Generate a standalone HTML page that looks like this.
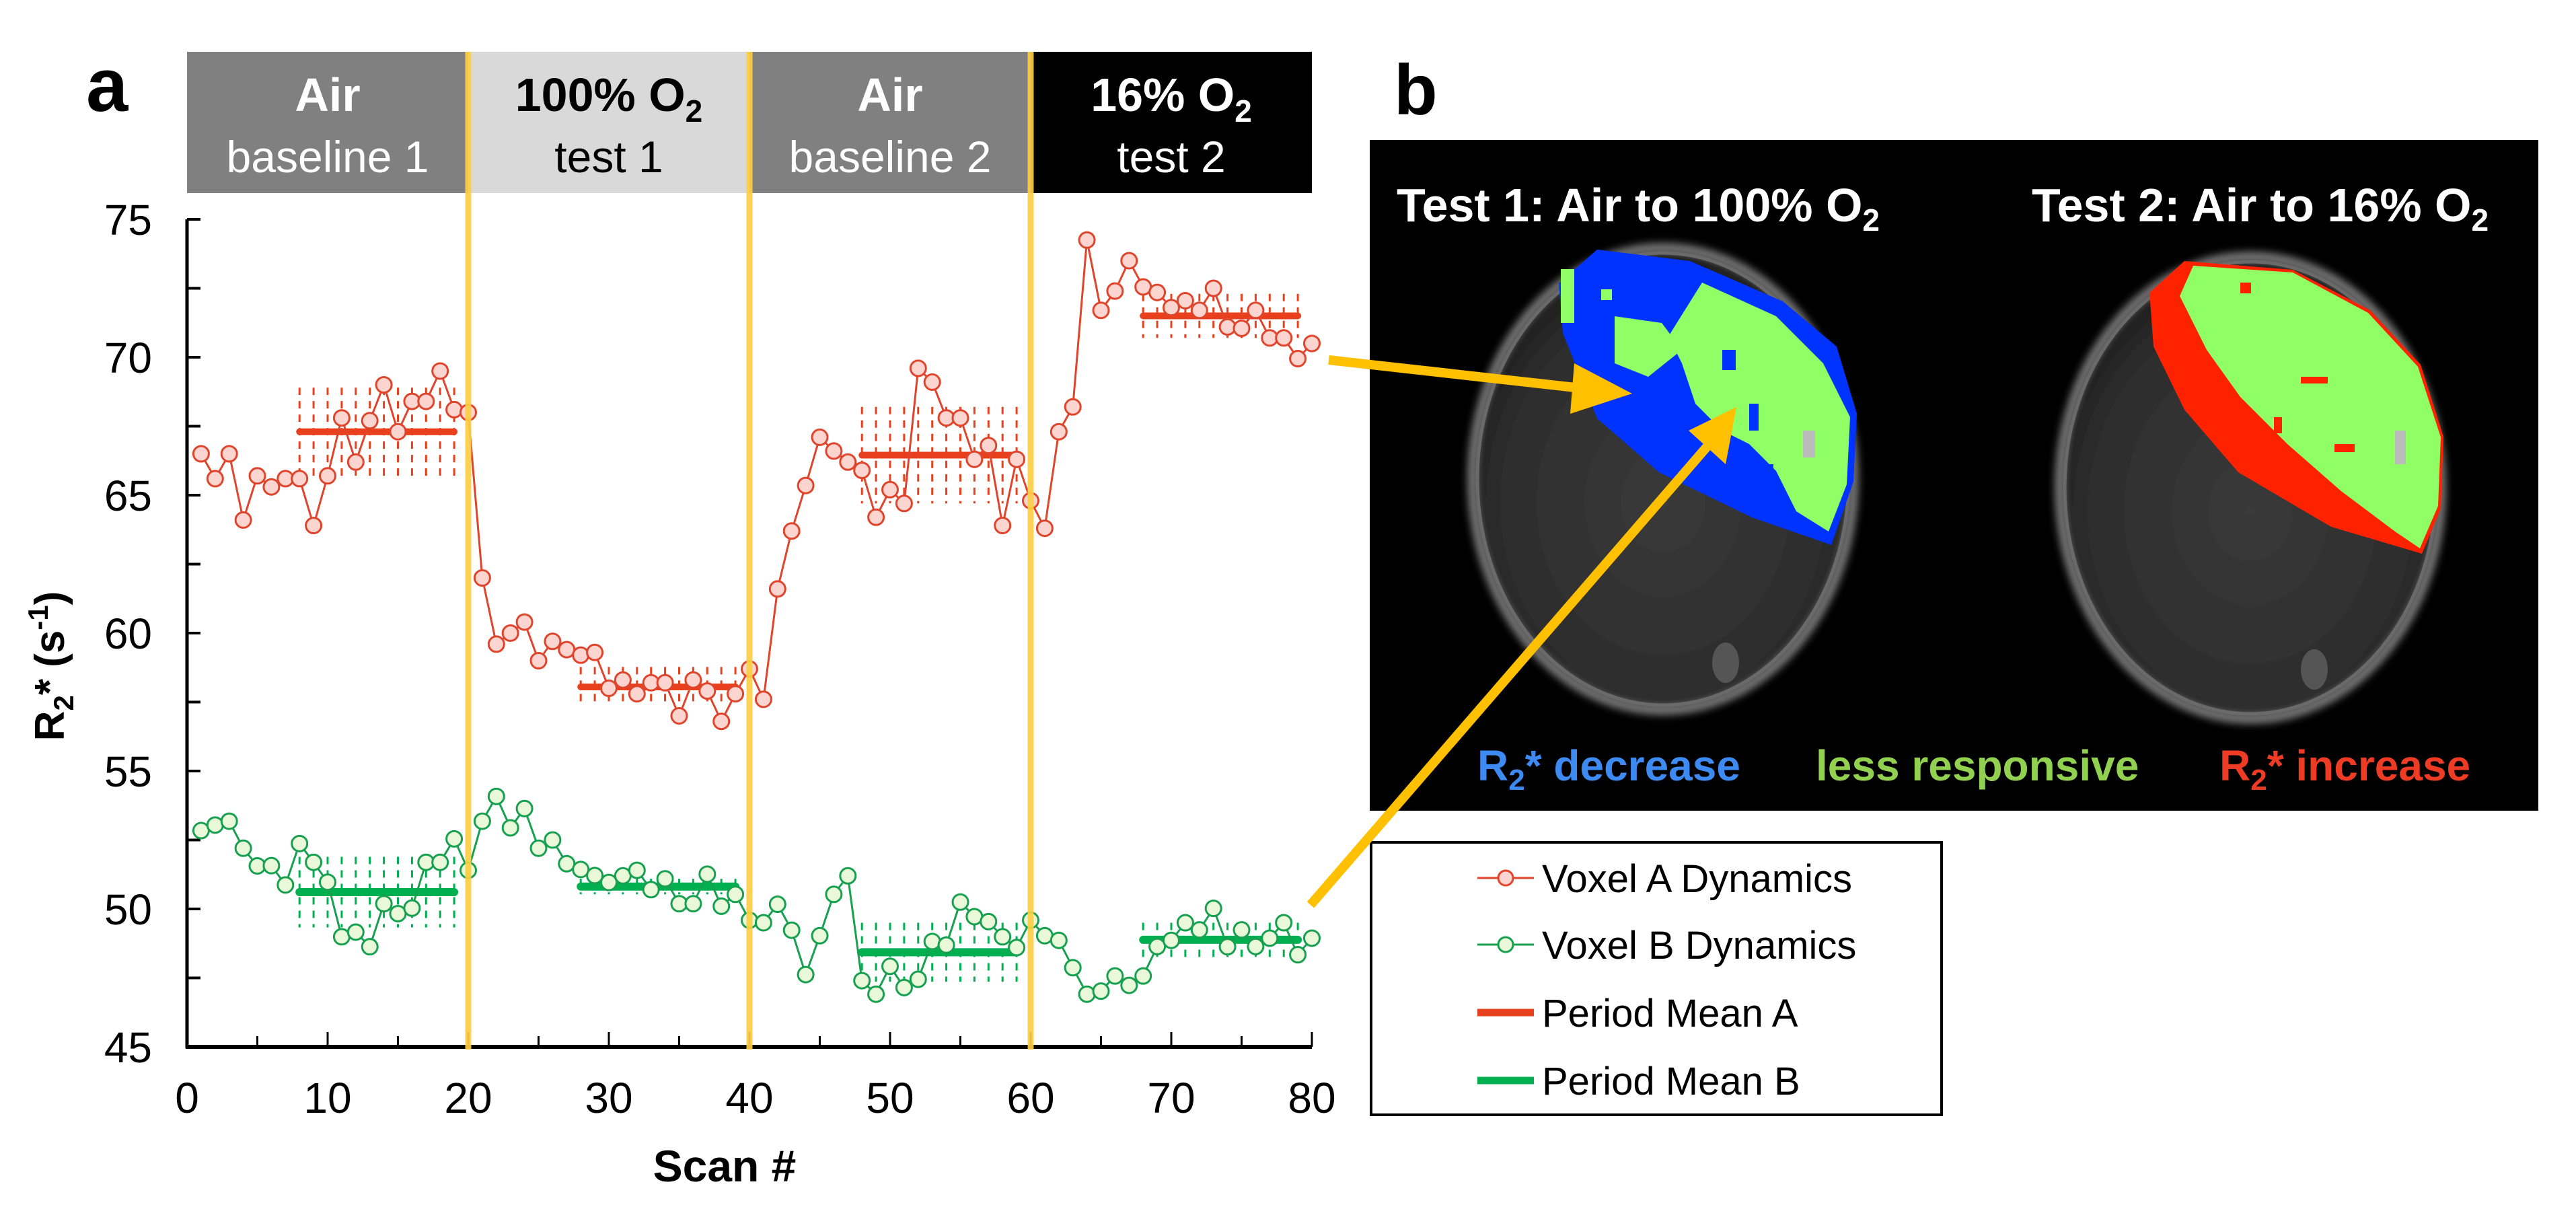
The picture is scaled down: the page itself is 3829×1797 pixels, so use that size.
<!DOCTYPE html>
<html><head><meta charset="utf-8"><style>
html,body{margin:0;padding:0;background:#fff}
svg{display:block}
text{font-family:"Liberation Sans",Arial,sans-serif}
</style></head><body>
<svg id="fig" width="3829" height="1797" viewBox="0 0 3829 1797" xmlns="http://www.w3.org/2000/svg">
<defs>
<radialGradient id="mri" cx="50%" cy="55%" r="55%">
<stop offset="0%" stop-color="#3a3a3a"/><stop offset="80%" stop-color="#2c2c2c"/><stop offset="100%" stop-color="#1a1a1a"/>
</radialGradient>
<filter id="blur"><feGaussianBlur stdDeviation="6"/></filter>
</defs>
<g id="panelA">
<text x="128" y="165" font-size="112" font-weight="bold">a</text>
<g id="header"></g>
<g id="plot"></g>
<text transform="translate(95,990) rotate(-90)" text-anchor="middle" font-size="62" font-weight="bold">R<tspan font-size="42" dy="14">2</tspan><tspan dy="-14">* (s</tspan><tspan font-size="42" dy="-24">-1</tspan><tspan dy="24">)</tspan></text>
<text x="1077" y="1756" text-anchor="middle" font-size="66" font-weight="bold">Scan #</text>
</g>
<g id="panelB">
<text x="2072" y="170" font-size="106" font-weight="bold">b</text>
<rect x="2036" y="208" width="1737" height="997" fill="#000"/>
<g>
<ellipse cx="2472" cy="712" rx="285" ry="345" fill="url(#mri)" stroke="#8a8a8a" stroke-width="10" filter="url(#blur)"/>
<ellipse cx="2472" cy="712" rx="276" ry="336" fill="none" stroke="#6a6a6a" stroke-width="5"/>
<polygon points="2374,371 2512,388 2650,448 2730,515 2760,615 2755,716 2722,810 2604,769 2466,702 2374,622 2323,495 2317,421" fill="#0033ff"/>
<polygon points="2530,420 2640,470 2710,540 2750,620 2745,720 2718,790 2670,760 2640,700 2600,660 2560,640 2520,600 2500,540 2480,500" fill="#90ff66"/>
<polygon points="2400,470 2470,480 2500,520 2450,560 2400,540" fill="#90ff66"/>
<rect x="2320" y="400" width="20" height="80" fill="#90ff66"/>
<rect x="2380" y="430" width="16" height="16" fill="#90ff66"/><rect x="2420" y="500" width="30" height="12" fill="#90ff66"/>
<rect x="2560" y="520" width="20" height="30" fill="#0033ff"/><rect x="2600" y="600" width="14" height="40" fill="#0033ff"/>
<rect x="2680" y="640" width="18" height="40" fill="#bbbbbb"/><rect x="2620" y="690" width="16" height="16" fill="#0033ff"/>
<ellipse cx="2565" cy="985" rx="20" ry="30" fill="#555"/>
</g>
<g>
<ellipse cx="3345" cy="725" rx="285" ry="345" fill="url(#mri)" stroke="#8a8a8a" stroke-width="10" filter="url(#blur)"/>
<ellipse cx="3345" cy="725" rx="276" ry="336" fill="none" stroke="#6a6a6a" stroke-width="5"/>
<polygon points="3247,388 3408,401 3523,461 3598,542 3632,649 3628,756 3600,823 3465,783 3327,702 3247,609 3201,515 3195,435" fill="#ff2200"/>
<polygon points="3260,395 3408,405 3520,465 3594,545 3628,650 3624,752 3597,815 3560,790 3480,730 3400,660 3330,590 3280,520 3240,440" fill="#90ff66"/>
<rect x="3330" y="420" width="16" height="16" fill="#ff2200"/><rect x="3420" y="560" width="40" height="10" fill="#ff2200"/>
<rect x="3380" y="620" width="12" height="24" fill="#ff2200"/><rect x="3470" y="660" width="30" height="12" fill="#ff2200"/>
<rect x="3560" y="640" width="16" height="50" fill="#bbbbbb"/>
<ellipse cx="3440" cy="995" rx="20" ry="30" fill="#555"/>
</g>
<text x="2076" y="329" font-size="70" font-weight="bold" fill="#fff">Test 1: Air to 100% O<tspan font-size="46" dy="14">2</tspan></text>
<text x="3020" y="329" font-size="70" font-weight="bold" fill="#fff">Test 2: Air to 16% O<tspan font-size="46" dy="14">2</tspan></text>
<text x="2196" y="1160" font-size="64" font-weight="bold" fill="#3d8bf2">R<tspan font-size="44" dy="14">2</tspan><tspan dy="-14">* decrease</tspan></text>
<text x="2699" y="1160" font-size="64" font-weight="bold" fill="#92d050">less responsive</text>
<text x="3299" y="1160" font-size="64" font-weight="bold" fill="#ee3b24">R<tspan font-size="44" dy="14">2</tspan><tspan dy="-14">* increase</tspan></text>
</g>
<g id="legend">
<rect x="2038" y="1252" width="848" height="405" fill="#fff" stroke="#000" stroke-width="4"/>
<g>
<line x1="2196" y1="1305" x2="2280" y2="1305" stroke="#e0452c" stroke-width="3"/><circle cx="2238" cy="1305" r="11" fill="#fdd5d0" stroke="#e0452c" stroke-width="3"/>
<text x="2292" y="1326" font-size="58">Voxel A Dynamics</text></g>
<g>
<line x1="2196" y1="1404" x2="2280" y2="1404" stroke="#16a050" stroke-width="3"/><circle cx="2238" cy="1404" r="11" fill="#e8f8d8" stroke="#16a050" stroke-width="3"/>
<text x="2292" y="1425" font-size="58">Voxel B Dynamics</text></g>
<g>
<line x1="2196" y1="1505" x2="2280" y2="1505" stroke="#e8401c" stroke-width="11"/>
<text x="2292" y="1526" font-size="58">Period Mean A</text></g>
<g>
<line x1="2196" y1="1606" x2="2280" y2="1606" stroke="#00b050" stroke-width="11"/>
<text x="2292" y="1627" font-size="58">Period Mean B</text></g>
</g>
<g id="arrows">
<line x1="1975" y1="535" x2="2350" y2="577" stroke="#ffc000" stroke-width="14"/>
<polygon points="2426,585 2340,540 2334,615" fill="#ffc000"/>
<line x1="1948" y1="1345" x2="2545" y2="655" stroke="#ffc000" stroke-width="14"/>
<polygon points="2581,605 2510,640 2565,690" fill="#ffc000"/>
</g>
</svg>
<script>
const scans = [];
for (let i = 1; i <= 80; i++) scans.push(i);
const voxelA = [66.5,65.6,66.5,64.1,65.7,65.3,65.6,65.6,63.9,65.7,67.8,66.2,67.7,69.0,67.3,68.4,68.4,69.5,68.1,68.0,
62.0,59.6,60.0,60.4,59.0,59.7,59.4,59.2,59.3,58.0,58.3,57.8,58.2,58.2,57.0,58.3,57.9,56.8,57.8,58.7,
57.6,61.6,63.7,65.35,67.1,66.6,66.2,65.9,64.2,65.2,64.7,69.6,69.1,67.8,67.8,66.3,66.8,63.9,66.3,64.8,
63.8,67.3,68.2,74.25,71.7,72.4,73.5,72.55,72.35,71.8,72.05,71.7,72.5,71.1,71.05,71.7,70.7,70.7,69.95,70.5];
const voxelB = [52.84,53.04,53.18,52.2,51.56,51.57,50.87,52.37,51.69,50.97,48.99,49.16,48.63,50.19,49.83,50.03,51.69,51.69,52.54,51.4,
53.18,54.08,52.94,53.64,52.2,52.5,51.64,51.43,51.21,50.96,51.2,51.4,50.7,51.09,50.19,50.19,51.26,50.1,50.53,49.59,
49.5,50.17,49.23,47.62,49.03,50.53,51.2,47.4,46.91,47.92,47.15,47.45,48.82,48.69,50.25,49.72,49.54,48.99,48.6,49.59,
49.03,48.86,47.87,46.91,47.02,47.57,47.23,47.57,48.64,48.86,49.5,49.24,50.02,48.63,49.24,48.64,48.94,49.5,48.34,48.94];
const periodStart = [8,28,48,68];
const periodEnd = [19,39,59,79];
const meanA = [67.3,58.05,66.45,71.5];
const errA = [1.6,0.72,1.75,0.8];
const meanB = [50.61,50.81,48.43,48.88];
const errB = [1.28,0.28,1.07,0.62];
const yTicks = [45,50,55,60,65,70,75];
const xTicks = [0,10,20,30,40,50,60,70,80];
const boundaries = [20,40,60];
const headerStart = [0,20,40,60];
const headerEnd = [20,40,60,80];
const headerTitle = ["Air","100% O","Air","16% O"];
const headerSub = ["baseline 1","test 1","baseline 2","test 2"];

const NS = "http://www.w3.org/2000/svg";
const X = s => 278 + s * 20.9;
const Y = v => 326 + (75 - v) * 41.0;
function mk(tag, attrs, parent) {
  const e = document.createElementNS(NS, tag);
  for (const k in attrs) e.setAttribute(k, attrs[k]);
  parent.appendChild(e);
  return e;
}
const plot = document.getElementById('plot');
const header = document.getElementById('header');

const hFill = ["#808080","#d9d9d9","#808080","#000000"];
const hText = ["#ffffff","#000000","#ffffff","#ffffff"];
for (let i = 0; i < 4; i++) {
  const r = mk('rect', {x: X(headerStart[i]), y: 77, width: X(headerEnd[i]) - X(headerStart[i]), height: 210, fill: hFill[i]}, header);
  
  
  const cx = (X(headerStart[i]) + X(headerEnd[i])) / 2;
  const t = mk('text', {x: cx, y: 165, 'text-anchor': 'middle', 'font-size': 70, 'font-weight': 'bold', fill: hText[i]}, header);
  
  
  t.textContent = headerTitle[i];
  if (i % 2 === 1) {
    const sub = mk('tspan', {'font-size': 46, dy: 16}, t);
    sub.textContent = '2';
  }
  const s = mk('text', {x: cx, y: 256, 'text-anchor': 'middle', 'font-size': 66, fill: hText[i]}, header);
  
  
  s.textContent = headerSub[i];
}

const yAxis = mk('line', {x1: 278, y1: Y(75), x2: 278, y2: Y(45) + 2, stroke: '#000', 'stroke-width': 5}, plot);


const xAxis = mk('line', {x1: 276, y1: Y(45), x2: X(80), y2: Y(45), stroke: '#000', 'stroke-width': 6}, plot);


for (let v = 45; v <= 75; v += 2.5) {
  const tk = mk('line', {x1: 278, y1: Y(v), x2: 298, y2: Y(v), stroke: '#000', 'stroke-width': 4}, plot);
  
  
}
yTicks.forEach(v => {
  const t = mk('text', {x: 226, y: Y(v) + 23, 'text-anchor': 'end', 'font-size': 64}, plot);
  
  
  t.textContent = v;
});
for (let s = 5; s <= 80; s += 5) {
  const len = s % 10 === 0 ? 22 : 16;
  const tk = mk('line', {x1: X(s), y1: Y(45), x2: X(s), y2: Y(45) - len, stroke: '#000', 'stroke-width': 3}, plot);
  
  
}
xTicks.forEach(s => {
  const t = mk('text', {x: X(s), y: 1654, 'text-anchor': 'middle', 'font-size': 64}, plot);
  
  
  t.textContent = s;
});

function period(means, errs, color, w, name) {
  for (let p = 0; p < 4; p++) {
    for (let s = periodStart[p]; s <= periodEnd[p]; s++) {
      const eb = mk('line', {x1: X(s), y1: Y(means[p] + errs[p]), x2: X(s), y2: Y(means[p] - errs[p]), stroke: color, 'stroke-width': 3, 'stroke-dasharray': '11 9'}, plot);
      
      
    }
    const m = mk('line', {x1: X(periodStart[p]), y1: Y(means[p]), x2: X(periodEnd[p]), y2: Y(means[p]), stroke: color, 'stroke-width': w, 'stroke-linecap': 'round'}, plot);
    
    
  }
}
period(meanA, errA, '#e8401c', 10, 'voxel-a');
period(meanB, errB, '#00b050', 12, 'voxel-b');

function series(vals, stroke, fill, name) {
  const pts = vals.map((v, i) => X(scans[i]) + ',' + Y(v)).join(' ');
  const pl = mk('polyline', {points: pts, fill: 'none', stroke: stroke, 'stroke-width': 3}, plot);
  
  
  vals.forEach((v, i) => {
    const c = mk('circle', {cx: X(scans[i]), cy: Y(v), r: 11.5, fill: fill, stroke: stroke, 'stroke-width': 3}, plot);
    
    
  });
}
series(voxelA, '#e0452c', '#fdd5d0', 'voxel-a');
series(voxelB, '#16a050', '#e8f8d8', 'voxel-b');

boundaries.forEach(s => {
  const l = mk('line', {x1: X(s), y1: 77, x2: X(s), y2: Y(45) + 4, stroke: '#fdcf45', 'stroke-width': 9, opacity: 0.92}, plot);
  
  
});
</script>
</body></html>
